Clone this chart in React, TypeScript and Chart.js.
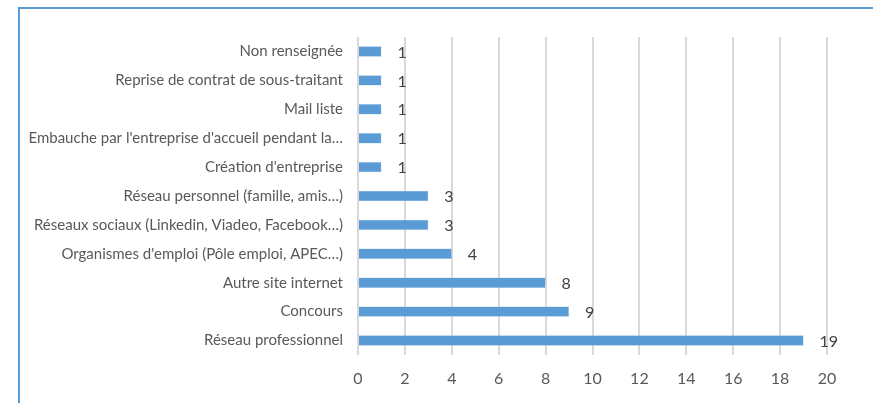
import React, { useEffect, useRef } from "react";
import { Chart, registerables } from "chart.js";

Chart.register(...registerables);

const categories = [
  "Non renseignée",
  "Reprise de contrat de sous-traitant",
  "Mail liste",
  "Embauche par l'entreprise d'accueil pendant la…",
  "Création d'entreprise",
  "Réseau personnel (famille, amis…)",
  "Réseaux sociaux (Linkedin, Viadeo, Facebook…)",
  "Organismes d'emploi (Pôle emploi, APEC…)",
  "Autre site internet",
  "Concours",
  "Réseau professionnel",
];
const values = [1, 1, 1, 1, 1, 3, 3, 4, 8, 9, 19];
const xMin = 0;
const xMax = 20;
const xStep = 2;

const FONT = "Lato, 'Open Sans', sans-serif";

const valueLabels = {
  id: "valueLabels",
  afterDatasetsDraw(chart: any) {
    const ctx = chart.ctx;
    const meta = chart.getDatasetMeta(0);
    ctx.save();
    ctx.font = `16px ${FONT}`;
    ctx.fillStyle = "#404040";
    ctx.textAlign = "left";
    ctx.textBaseline = "middle";
    meta.data.forEach((el: any, i: number) => {
      ctx.fillText(String(chart.data.datasets[0].data[i]), el.x + 16, el.y + 1);
    });
    ctx.restore();
  },
};

export default function App() {
  const ref = useRef<HTMLCanvasElement>(null);
  useEffect(() => {
    const chart = new Chart(ref.current!, {
      type: "bar",
      data: {
        labels: categories,
        datasets: [
          {
            data: values,
            backgroundColor: "#5b9bd5",
            borderColor: "#9dc3e6",
            borderWidth: 0.5,
            categoryPercentage: 1,
            barPercentage: 0.36,
          },
        ],
      },
      options: {
        indexAxis: "y",
        responsive: false,
        animation: false,
        layout: { padding: { top: 37, right: 46, left: 0, bottom: 0 } },
        plugins: {
          legend: { display: false },
          tooltip: { enabled: false },
        },
        scales: {
          x: {
            min: xMin,
            max: xMax,
            ticks: {
              stepSize: xStep,
              padding: 14,
              color: "#595959",
              font: { family: FONT, size: 16 },
            },
            grid: { color: "#d9d9d9", lineWidth: 2, drawTicks: false },
            border: { display: false },
            afterFit: (s: any) => {
              s.height = 48;
            },
          },
          y: {
            ticks: {
              padding: 15,
              color: "#595959",
              font: { family: FONT, size: 15 },
              autoSkip: false,
            },
            grid: { display: false, drawTicks: false },
            border: { display: false },
            afterFit: (s: any) => {
              s.width = 358;
            },
          },
        },
      },
      plugins: [valueLabels],
    });
    return () => chart.destroy();
  }, []);
  return (
    <div
      style={{
        position: "fixed",
        left: 0,
        top: 0,
        width: 873,
        height: 403,
        overflow: "hidden",
        background: "#fff",
      }}
    >
      <div
        style={{
          position: "absolute",
          left: 18,
          top: 7,
          width: 1000,
          height: 600,
          borderLeft: "2px solid #5b9bd5",
          borderTop: "2px solid #5b9bd5",
          boxSizing: "border-box",
        }}
      />
      <canvas
        ref={ref}
        width={873}
        height={403}
        style={{ position: "absolute", left: 0, top: 0, width: 873, height: 403 }}
      />
    </div>
  );
}
